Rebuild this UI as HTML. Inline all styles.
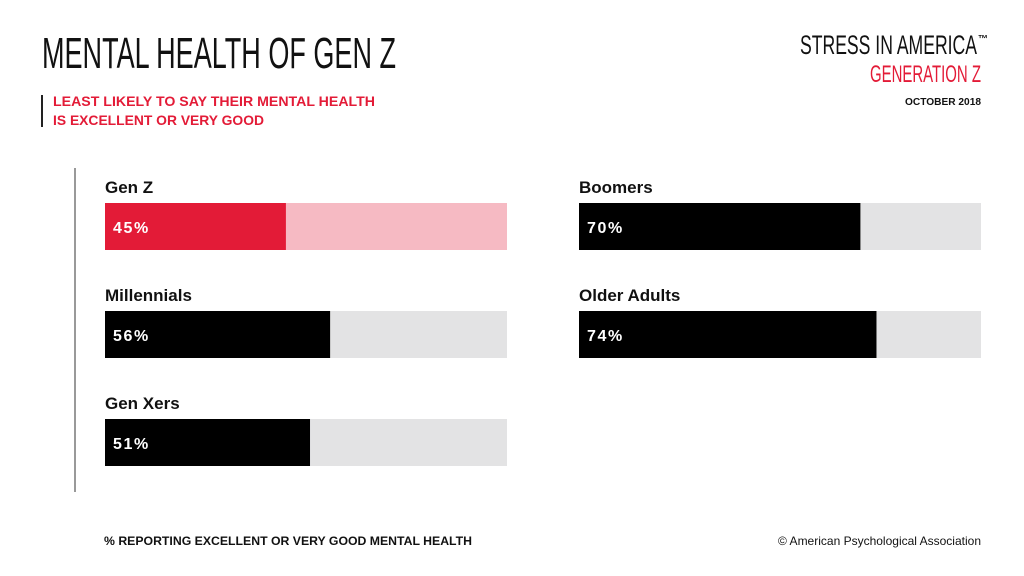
<!DOCTYPE html>
<html><head><meta charset="utf-8"><style>
html,body{margin:0;padding:0;background:#fff;}
svg{display:block;font-family:"Liberation Sans",sans-serif;}
</style></head><body>
<svg id="chart" width="1024" height="576" viewBox="0 0 1024 576">
<text x="42" y="68" font-size="44" textLength="354" lengthAdjust="spacingAndGlyphs" fill="#111">MENTAL HEALTH OF GEN Z</text>
<rect x="41" y="95" width="2" height="32" fill="#222"/>
<text x="53" y="106" font-size="14" font-weight="bold" fill="#e31b37" textLength="322" lengthAdjust="spacingAndGlyphs">LEAST LIKELY TO SAY THEIR MENTAL HEALTH</text>
<text x="53" y="125" font-size="14" font-weight="bold" fill="#e31b37" textLength="211" lengthAdjust="spacingAndGlyphs">IS EXCELLENT OR VERY GOOD</text>
<text x="800" y="54" font-size="27" fill="#111" textLength="177" lengthAdjust="spacingAndGlyphs">STRESS IN AMERICA</text>
<text x="978" y="42" font-size="10" font-weight="bold" fill="#111">™</text>
<text x="870" y="82" font-size="24" fill="#e31b37" textLength="111" lengthAdjust="spacingAndGlyphs">GENERATION Z</text>
<text x="905" y="105" font-size="10" font-weight="bold" fill="#111" textLength="76" lengthAdjust="spacingAndGlyphs">OCTOBER 2018</text>
<rect x="74" y="168" width="2" height="324" fill="#999"/>
<g id="bars"></g>
<text x="104" y="545" font-size="12" font-weight="bold" fill="#111" textLength="368" lengthAdjust="spacingAndGlyphs">% REPORTING EXCELLENT OR VERY GOOD MENTAL HEALTH</text>
<text x="981" y="545" font-size="12" text-anchor="end" fill="#111">© American Psychological Association</text>
</svg>
<script>
const categories=["Gen Z","Millennials","Gen Xers","Boomers","Older Adults"];
const values=[45,56,51,70,74];
const columns=[0,0,0,1,1];
const rows=[0,1,2,0,1];
const ns="http://www.w3.org/2000/svg";
const g=document.getElementById("bars");
const trackW=402, barH=47;
function colX(c){return c===0?105:579;}
function rowY(r){return 203+r*108;}
function xScale(v){return v/100*trackW;}
function mk(tag,attrs){const e=document.createElementNS(ns,tag);for(const k in attrs)e.setAttribute(k,attrs[k]);g.appendChild(e);return e;}
categories.forEach((cat,i)=>{
  const x=colX(columns[i]), y=rowY(rows[i]);
  const hi=i===0;
  const lbl=mk("text",{x:x,y:y-10,"font-size":17,"font-weight":"bold",fill:"#111"});
  lbl.textContent=cat;
  
  
  const tr=mk("rect",{x:x,y:y,width:trackW,height:barH,fill:hi?"#f6bac3":"#e3e3e4"});
  
  
  const b=mk("rect",{x:x,y:y,width:xScale(values[i]),height:barH,fill:hi?"#e31b37":"#000"});
  
  
  const t=mk("text",{x:x+8,y:y+30,"font-size":16,"font-weight":"bold",fill:"#fff","letter-spacing":"1.6"});
  t.textContent=values[i]+"%";
  
  
});
</script>
</body></html>
